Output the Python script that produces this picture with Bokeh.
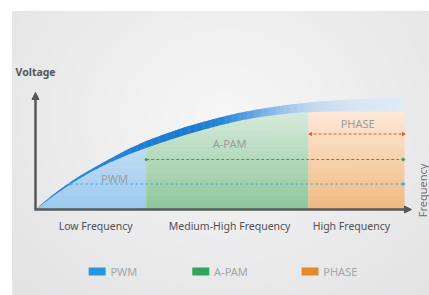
import numpy as np
from bokeh.plotting import figure
from bokeh.models import Range1d, Arrow, NormalHead
from bokeh.core.properties import value
from bokeh.embed import file_html
from bokeh.resources import INLINE

# ---------------- data ----------------
freq = [0, 2.5, 5, 7.5, 10, 12.5, 15, 20, 25, 30, 35, 40, 45, 50, 55, 60,
        65, 70, 75, 80, 85, 90, 95, 100]
fill_top = [0, 7.5, 14.5, 21, 27.5, 33, 38.5, 48, 56, 63, 69.5, 75.5, 81, 86,
            90.5, 94, 96.5, 98.5, 99.5, 100, 100, 100, 100, 100]
band_top = [0, 8.5, 16, 23, 29.5, 35.5, 41, 51.5, 61.5, 70, 77, 83.5, 89, 94,
            98.5, 102, 105, 107.5, 109.5, 111, 112, 113, 113.5, 114]

regions = ["PWM", "A-PAM", "PHASE"]
region_edges = [0, 30, 74, 100]
phase_top = 100
levels = [26, 51, 77]
categories = ["Low Frequency", "Medium-High Frequency", "High Frequency"]
axis_titles = ["Voltage", "Frequency"]

# ---------------- styles ----------------
FONT = value("Noto Sans")
AXIS_C = "#58585a"
region_cols = [("#d4e7f8", "#9bcaee"), ("#d7ebdb", "#8ec69a"), ("#fde9d8", "#f0b97f")]
level_cols = ["#4ba6e0", "#3e9e55", "#e55a2b"]
legend_cols = ["#2a96dc", "#34a35c", "#e58a2a"]
swoosh_stops = [(0, "#3189d7"), (40, "#1a7bcf"), (50, "#2585d5"), (58, "#5ca1df"),
                (66, "#95c0e9"), (75, "#c3d9f0"), (85, "#d6e4f3"), (100, "#e3ebf4")]


def hex2rgb(h):
    h = h.lstrip("#")
    return np.array([int(h[i:i + 2], 16) for i in (0, 2, 4)], dtype=float)


def lerp(c1, c2, t):
    r = hex2rgb(c1) * (1 - t) + hex2rgb(c2) * t
    return "#%02x%02x%02x" % tuple(int(round(v)) for v in r)


def stop_color(stops, u):
    for (u0, c0), (u1, c1) in zip(stops[:-1], stops[1:]):
        if u <= u1:
            return lerp(c0, c1, (u - u0) / (u1 - u0) if u1 > u0 else 0)
    return stops[-1][1]


# pixel mapping: x unit = 3.69 px, y unit = 0.98 px, origin at (35, 209)
p = figure(width=429, height=295, output_backend="svg", toolbar_location=None,
           x_range=Range1d(-6.233, 106.78), y_range=Range1d(-87.76, 202.04),
           x_axis_location=None, y_axis_location=None,
           min_border_left=12, min_border_top=11, min_border_right=0, min_border_bottom=0,
           background_fill_color="#e2e2e4", border_fill_color="white",
           outline_line_color=None)
p.grid.visible = False

# background radial gradient
N = 40
for k in range(N):
    s = 1 - k / N
    p.ellipse(x=51.5, y=95, width=165 * s, height=520 * s,
              fill_color=lerp("#f7f7f7", "#e2e2e4", s), line_color=None)


# region fills (vertical gradients)
def region_fill(a, b, top_fn, c_top, c_bot, n=40):
    xd = np.linspace(a, b, 160)
    tops = top_fn(xd)
    xs, ys, cols = [], [], []
    for k in range(n):
        lo, hi = 100 * k / n, 100 * (k + 1) / n
        if np.all(tops <= lo):
            continue
        y_lo = np.minimum(tops, lo)
        y_hi = np.minimum(tops, hi + 0.5)
        xs.append(np.concatenate([xd, xd[::-1]]).tolist())
        ys.append(np.concatenate([y_hi, y_lo[::-1]]).tolist())
        cols.append(lerp(c_bot, c_top, (lo + hi) / 200))
    p.patches(xs, ys, fill_color=cols, line_color=None)


curve_fn = lambda x: np.interp(x, freq, fill_top)
for i in range(3):
    a, b = region_edges[i], region_edges[i + 1]
    fn = curve_fn if i < 2 else (lambda x: np.full_like(x, phase_top))
    region_fill(a, b, fn, region_cols[i][0], region_cols[i][1])

# swoosh band along the curve
xd = np.linspace(0, 100, 320)
lo = np.interp(xd, freq, fill_top)
hi = np.interp(xd, freq, band_top)
sx, sy, sc = [], [], []
for i in range(len(xd) - 1):
    x2 = min(xd[i + 1] + 0.15, 100)
    sx.append([xd[i], x2, x2, xd[i]])
    sy.append([lo[i], lo[i + 1], hi[i + 1], hi[i]])
    sc.append(stop_color(swoosh_stops, (xd[i] + xd[i + 1]) / 2))
p.patches(sx, sy, fill_color=sc, line_color=None)

# dashed levels
starts = [float(np.interp(levels[0], fill_top[:20], freq[:20])), region_edges[1], region_edges[2]]
for lv, st, c in zip(levels, starts, level_cols):
    p.line([st, 99.7], [lv, lv], line_color=c, line_width=1, line_dash="3 2")
    p.scatter([99.7], [lv], marker="triangle", angle=-np.pi / 2, size=3,
              fill_color=c, line_color=c)
p.scatter([starts[0], starts[1]], [levels[0], levels[1]], marker="circle", size=3,
          fill_color=level_cols[:2], line_color=None)
p.scatter([starts[2] + 0.6], [levels[2]], marker="triangle", angle=np.pi / 2, size=3,
          fill_color=level_cols[2], line_color=level_cols[2])

# region labels
p.text(x=[21.4, 52.6, 87.3], y=[31.6, 67.3, 87.8], text=regions,
       text_font=FONT, text_font_size="11px", text_color="#9b9b9b",
       text_align="center", text_baseline="middle")

# axes
head = dict(size=7, fill_color=AXIS_C, line_color=AXIS_C)
p.add_layout(Arrow(end=NormalHead(**head), x_start=-0.3, y_start=0, x_end=101.9, y_end=0,
                   line_color=AXIS_C, line_width=2.5))
p.add_layout(Arrow(end=NormalHead(**head), x_start=0, y_start=0, x_end=0, y_end=119.4,
                   line_color=AXIS_C, line_width=2.5))

p.text(x=[16.3, 52.6, 85.6], y=[-17.3] * 3, text=categories, text_font=FONT,
       text_font_size="10.5px", text_color="#505050", text_align="center",
       text_baseline="middle")
p.text(x=[-5.4], y=[139.8], text=[axis_titles[0]], text_font=FONT,
       text_font_size="10.5px", text_font_style="bold", text_color="#555555",
       text_align="left", text_baseline="middle")
p.text(x=[104.9], y=[19.4], text=[axis_titles[1]], text_font=FONT, angle=np.pi / 2,
       text_font_size="11px", text_color="#707070", text_align="center",
       text_baseline="middle")

# legend
lg_x = [14.4, 42.5, 72.1]
for x0, c in zip(lg_x, legend_cols):
    p.quad(left=[x0], right=[x0 + 4.6], bottom=[-67.3], top=[-59.2], fill_color=c,
           line_color=None)
p.text(x=[x + 5.9 for x in lg_x], y=[-63.3] * 3, text=regions, text_font=FONT,
       text_font_size="11px", text_color="#a5a5a5", text_align="left",
       text_baseline="middle")

open("out.html", "w").write(file_html(p, INLINE))
